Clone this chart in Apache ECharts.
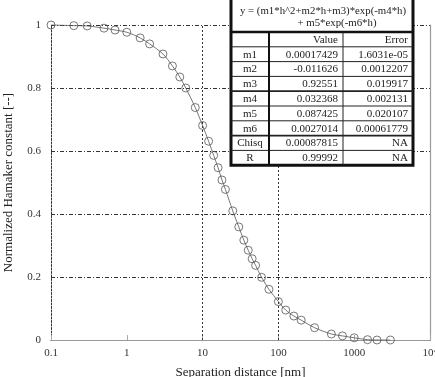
<!DOCTYPE html>
<html>
<head>
<meta charset="utf-8">
<script src="https://cdn.jsdelivr.net/npm/echarts@6/dist/echarts.min.js"></script>
<style>
  html, body { margin: 0; padding: 0; background: #fff; }
  #chart { width: 435px; height: 377px; }
</style>
</head>
<body>
<div id="chart"></div>
<script>
// measured data (separation distance in nm, normalized Hamaker constant)
const distance = [0.1, 0.2, 0.3, 0.5, 0.7, 1, 1.5, 2, 3, 4, 5, 6, 8, 10, 12, 14, 16, 18, 20, 25,
  30, 35, 40, 45, 50, 60, 75, 100, 125, 160, 200, 300, 500, 700, 1000, 1500, 2000, 3000];
const hamaker = [1.0, 0.998, 0.997, 0.99, 0.984, 0.977, 0.959, 0.94, 0.908, 0.87, 0.835, 0.8, 0.738, 0.681,
  0.631, 0.586, 0.547, 0.508, 0.478, 0.41, 0.359, 0.317, 0.285, 0.258, 0.237, 0.199, 0.161, 0.122,
  0.095, 0.076, 0.063, 0.039, 0.019, 0.013, 0.007, 0.001, 0.0, 0.0];

const yTicks = [0, 0.2, 0.4, 0.6, 0.8, 1];
const vGridLines = [10, 100];

// fit table
const fitTitle = ['y = (m1*h^2+m2*h+m3)*exp(-m4*h)', '+ m5*exp(-m6*h)'];
const tableHead = ['', 'Value', 'Error'];
const paramNames = ['m1', 'm2', 'm3', 'm4', 'm5', 'm6', 'Chisq', 'R'];
const paramValues = ['0.00017429', '-0.011626', '0.92551', '0.032368', '0.087425', '0.0027014', '0.00087815', '0.99992'];
const paramErrors = ['1.6031e-05', '0.0012207', '0.019917', '0.002131', '0.020107', '0.00061779', 'NA', 'NA'];

const serif = '"Liberation Serif", "DejaVu Serif", serif';

const buildTable = () => {
  const x0 = 231, x1 = 269, x2 = 343, x3 = 413;
  const titleH = 32, rowH = 14.8;
  const els = [];
  const rows = [tableHead].concat(paramNames.map((n, i) => [n, paramValues[i], paramErrors[i]]));
  const bottom = titleH + rows.length * rowH;
  els.push({ type: 'rect', shape: { x: x0, y: -2, width: x3 - x0, height: bottom + 2 },
    style: { fill: '#fff', stroke: '#111', lineWidth: 3 }, z: 100 });
  els.push({ type: 'text', x: (x0 + x3) / 2 + 1, y: 11, z: 101,
    style: { text: fitTitle[0], font: '10.8px ' + serif, fill: '#222', align: 'center', verticalAlign: 'middle' } });
  els.push({ type: 'text', x: 337, y: 23.5, z: 101,
    style: { text: fitTitle[1], font: '10.8px ' + serif, fill: '#222', align: 'center', verticalAlign: 'middle' } });
  els.push({ type: 'line', shape: { x1: x0, y1: titleH, x2: x3, y2: titleH }, z: 101,
    style: { stroke: '#111', lineWidth: 2.5 } });
  for (let i = 1; i < rows.length; i++) {
    const y = titleH + i * rowH;
    els.push({ type: 'line', shape: { x1: x0, y1: y, x2: x3, y2: y }, z: 101,
      style: { stroke: '#222', lineWidth: (i === 4 || i === 7) ? 1.8 : 1 } });
  }
  els.push({ type: 'line', shape: { x1: x1, y1: titleH, x2: x1, y2: bottom }, z: 101,
    style: { stroke: '#111', lineWidth: 2 } });
  els.push({ type: 'line', shape: { x1: x2, y1: titleH, x2: x2, y2: bottom }, z: 101,
    style: { stroke: '#222', lineWidth: 1 } });
  rows.forEach((r, i) => {
    const cy = titleH + i * rowH + rowH / 2 + 0.5;
    els.push({ type: 'text', x: (x0 + x1) / 2, y: cy, z: 102,
      style: { text: r[0], font: '11px ' + serif, fill: '#222', align: 'center', verticalAlign: 'middle' } });
    els.push({ type: 'text', x: x2 - 5, y: cy, z: 102,
      style: { text: r[1], font: '11px ' + serif, fill: '#222', align: 'right', verticalAlign: 'middle' } });
    els.push({ type: 'text', x: x3 - 5, y: cy, z: 102,
      style: { text: r[2], font: '11px ' + serif, fill: '#222', align: 'right', verticalAlign: 'middle' } });
  });
  return els;
};

const chart = echarts.init(document.getElementById('chart'));
const option = {
  animation: false,
  backgroundColor: '#fff',
  textStyle: { fontFamily: serif },
  grid: { left: 51, right: 5, top: 25, bottom: 37, outerBoundsMode: 'none', containLabel: false },
  xAxis: [
    {
      type: 'log', logBase: 10, min: 0.1, max: 10000, position: 'bottom',
      name: 'Separation distance [nm]', nameLocation: 'middle', nameGap: 26,
      nameTextStyle: { fontSize: 13, color: '#222', fontFamily: serif },
      axisLine: { lineStyle: { color: '#222', type: [3, 1], width: 1 } },
      axisTick: { inside: true, length: 5, lineStyle: { color: '#aaa' } },
      minorTick: { show: false },
      axisLabel: {
        margin: 8, fontSize: 11, color: '#333', fontFamily: serif,
        formatter: v => (v >= 10000 ? '10\u2074' : String(v))
      },
      splitLine: { show: false }
    },
    {
      type: 'log', logBase: 10, min: 0.1, max: 10000, position: 'top',
      axisLine: { show: true, lineStyle: { color: '#999', width: 1.2 } },
      axisTick: { show: false }, axisLabel: { show: false }, splitLine: { show: false }
    }
  ],
  yAxis: [
    {
      type: 'value', min: 0, max: 1, interval: 0.2, position: 'left',
      name: 'Normalized Hamaker constant [--]', nameLocation: 'middle', nameGap: 36,
      nameTextStyle: { fontSize: 13, color: '#222', fontFamily: serif },
      axisLine: { show: true, lineStyle: { color: '#333', type: [2, 1.5], width: 1 } },
      axisTick: { show: false },
      axisLabel: {
        margin: 10, fontSize: 11, color: '#333', fontFamily: serif,
        formatter: v => (yTicks.includes(+v.toFixed(1)) ? String(+v.toFixed(1)) : '')
      },
      splitLine: { show: true, lineStyle: { color: '#333', type: [4, 2, 1, 2], width: 1 } }
    },
    {
      type: 'value', min: 0, max: 1, interval: 0.2, position: 'right',
      axisLine: { show: true, lineStyle: { color: '#999', width: 1.2 } },
      axisTick: { show: false }, axisLabel: { show: false }, splitLine: { show: false }
    }
  ],
  series: [
    {
      type: 'line',
      xAxisIndex: 0, yAxisIndex: 0,
      data: distance.map((d, i) => [d, hamaker[i]]),
      smooth: 0.3,
      symbol: 'circle',
      symbolSize: 8,
      showAllSymbol: true,
      clip: false,
      lineStyle: { color: '#555', width: 0.8 },
      itemStyle: { color: 'rgba(255,255,255,0)', borderColor: '#555', borderWidth: 0.8 },
      markLine: {
        silent: true, symbol: 'none', label: { show: false },
        lineStyle: { color: '#333', type: [2, 2], width: 1 },
        data: vGridLines.map(v => ({ xAxis: v }))
      }
    }
  ],
  graphic: buildTable()
};
chart.setOption(option);
</script>
</body>
</html>
